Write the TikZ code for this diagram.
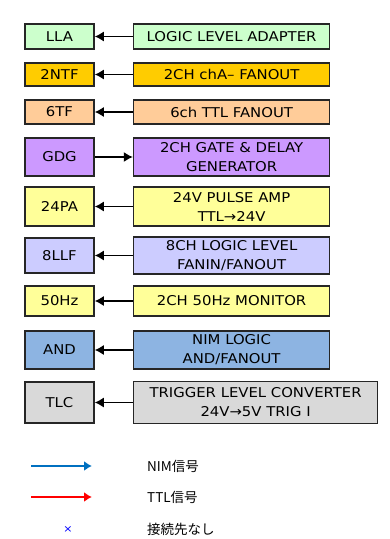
\documentclass[tikz,border=0pt]{standalone}
\usepackage{fontspec}
\setmainfont{DejaVu Sans}[FakeStretch=1.1]
\newfontfamily\jpfont{Noto Sans CJK JP}
\usepackage{xcolor}
\usetikzlibrary{shapes,arrows,arrows.meta,positioning}
\definecolor{llagreen}{HTML}{CCFFCC}
\definecolor{ntfgold}{HTML}{FFCC00}
\definecolor{tfpeach}{HTML}{FFCC99}
\definecolor{gdgviolet}{HTML}{CC99FF}
\definecolor{payellow}{HTML}{FFFF99}
\definecolor{llfblue}{HTML}{CCCCFF}
\definecolor{andblue}{HTML}{8DB4E2}
\definecolor{tlcgray}{HTML}{D9D9D9}
\definecolor{nimblue}{HTML}{0070C0}
\tikzstyle{unit} = [rectangle, draw=black!85, line width=1.6pt, inner sep=0pt,
    minimum width=69pt, align=center, font=\fontsize{13.5pt}{19pt}\selectfont]
\tikzstyle{board} = [unit, minimum width=196pt]
\tikzstyle{line} = [draw, line width=1.2pt, -{Latex[length=9pt,width=10pt]}]
\tikzstyle{legend} = [draw, line width=1.6pt, -{Latex[length=8pt,width=10pt]}]
\tikzstyle{note} = [anchor=west, inner sep=0pt, font=\jpfont\fontsize{13.5pt}{15pt}\selectfont]

\begin{document}
\begin{tikzpicture}[x=1pt, y=-1pt, node distance=38pt]
  \useasboundingbox (0,0) rectangle (390,539);
  % Place nodes
  \node [unit, fill=llagreen, minimum height=25pt] (lla) at (59.5,36.5) {LLA};
  \node [board, fill=llagreen, minimum height=25pt, right=of lla] (llab) {LOGIC LEVEL ADAPTER};
  \node [unit, fill=ntfgold, minimum height=23pt] (ntf) at (59.5,74.5) {2NTF};
  \node [board, fill=ntfgold, minimum height=23pt, right=of ntf] (ntfb) {2CH chA– FANOUT};
  \node [unit, fill=tfpeach, minimum height=24pt] (tf) at (59.5,112) {6TF};
  \node [board, fill=tfpeach, minimum height=24pt, right=of tf] (tfb) {6ch TTL FANOUT};
  \node [unit, fill=gdgviolet, minimum height=38pt] (gdg) at (59.5,157) {GDG};
  \node [board, fill=gdgviolet, minimum height=38pt, right=of gdg] (gdgb) {2CH GATE \& DELAY\\GENERATOR};
  \node [unit, fill=payellow, minimum height=39pt] (pa) at (59.5,206.5) {24PA};
  \node [board, fill=payellow, minimum height=39pt, right=of pa] (pab) {24V PULSE AMP\\TTL→24V};
  \node [unit, fill=llfblue, minimum height=35pt] (llf) at (59.5,255.5) {8LLF};
  \node [board, fill=llfblue, minimum height=37pt, right=of llf] (llfb) {8CH LOGIC LEVEL\\FANIN/FANOUT};
  \node [unit, fill=payellow, minimum height=30pt] (hz) at (59.5,301) {50Hz};
  \node [board, fill=payellow, minimum height=30pt, right=of hz] (hzb) {2CH 50Hz MONITOR};
  \node [unit, fill=andblue, minimum height=38pt] (and) at (59.5,350) {AND};
  \node [board, fill=andblue, minimum height=38pt, right=of and] (andb) {NIM LOGIC\\AND/FANOUT};
  \node [unit, fill=tlcgray, minimum height=41pt] (tlc) at (59.5,402.5) {TLC};
  \node [board, fill=tlcgray, minimum height=42pt, minimum width=244pt, right=of tlc] (tlcb)
    {TRIGGER LEVEL CONVERTER\\24V→5V TRIG Ⅰ};
  % Legend
  \coordinate (nimstart) at (31,466);
  \coordinate (nimend) at (92,466);
  \coordinate (ttlstart) at (31,497);
  \coordinate (ttlend) at (92,497);
  \node [note] (nimtext) at (147,466) {NIM信号};
  \node [note] (ttltext) at (147,497) {TTL信号};
  \node [note] (nctext) at (147,529) {接続先なし};
  \node [text=blue, inner sep=0pt, font=\fontsize{10pt}{10pt}\selectfont] (nomark) at (68,530) {×};
  % Draw edges
  \path [line] (llab) -- (lla);
  \path [line] (ntfb) -- (ntf);
  \path [line] (tfb) -- (tf);
  \path [line] (gdg) -- (gdgb);
  \path [line] (pab) -- (pa);
  \path [line] (llfb) -- (llf);
  \path [line] (hzb) -- (hz);
  \path [line] (andb) -- (and);
  \path [line] (tlcb.west |- tlc) -- (tlc);
  \path [legend, nimblue] (nimstart) -- (nimend);
  \path [legend, red] (ttlstart) -- (ttlend);
\end{tikzpicture}
\end{document}
